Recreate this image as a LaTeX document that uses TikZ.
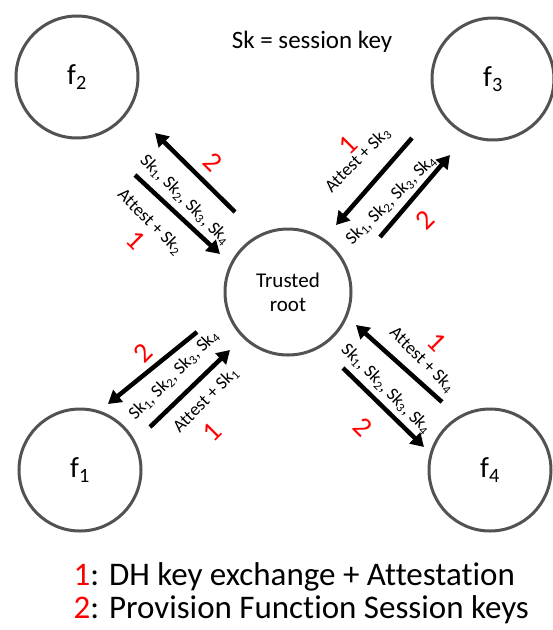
\documentclass[tikz,border=0pt]{standalone}
\usepackage{fontspec}
\setmainfont[Ligatures=NoCommon]{Carlito}
\usetikzlibrary{arrows.meta}

\begin{document}
\begin{tikzpicture}[
    x=1pt,y=-1pt,
    fn/.style={circle,draw=black!68,line width=3pt,minimum size=122pt,font=\fontsize{29}{32}\selectfont},
    msg/.style={line width=4.5pt,-{Triangle[length=13pt,width=15pt]}},
    lbl/.style={font=\fontsize{18}{20}\selectfont,inner sep=0pt},
    num/.style={text=red,font=\fontsize{28}{30}\selectfont,inner sep=0pt}
]
    \useasboundingbox (0,0) rectangle (553,630);
    \node[font=\fontsize{25}{28}\selectfont] (title) at (312,42) {Sk = session key};
    \node[fn] (f2) at (77,77) {f\textsubscript{2}};
    \node[fn] (f3) at (493,79) {f\textsubscript{3}};
    \node[fn] (f1) at (80,470) {f\textsubscript{1}};
    \node[fn] (f4) at (490,470) {f\textsubscript{4}};
    \node[fn,minimum size=126pt,font=\fontsize{21}{24}\selectfont,align=center] (root) at (288,292) {Trusted\\root};

    \coordinate (ul1s) at (135,175);
    \coordinate (ul1e) at (220,254);
    \coordinate (ul2s) at (235,212);
    \coordinate (ul2e) at (155,133);
    \draw[msg] (ul1s) -- (ul1e);
    \draw[msg] (ul2s) -- (ul2e);
    \node[lbl,rotate=-45] (ulk) at (185,200) {Sk\textsubscript{1}, Sk\textsubscript{2}, Sk\textsubscript{3}, Sk\textsubscript{4}};
    \node[lbl,rotate=-45] (ula) at (150,222) {Attest + Sk\textsubscript{2}};
    \node[num,rotate=-45] (uln2) at (213,162) {2};
    \node[num,rotate=-45] (uln1) at (136,240) {1};

    \coordinate (ur1s) at (412,138);
    \coordinate (ur1e) at (336,225);
    \coordinate (ur2s) at (380,237);
    \coordinate (ur2e) at (450,155);
    \draw[msg] (ur1s) -- (ur1e);
    \draw[msg] (ur2s) -- (ur2e);
    \node[lbl,rotate=45] (ura) at (358,160) {Attest + Sk\textsubscript{3}};
    \node[lbl,rotate=45] (urk) at (391,200) {Sk\textsubscript{1}, Sk\textsubscript{2}, Sk\textsubscript{3}, Sk\textsubscript{4}};
    \node[num,rotate=45] (urn1) at (348,145) {1};
    \node[num,rotate=45] (urn2) at (425,220) {2};

    \coordinate (ll2s) at (197,332);
    \coordinate (ll2e) at (108,404);
    \coordinate (ll1s) at (150,427);
    \coordinate (ll1e) at (230,350);
    \draw[msg] (ll2s) -- (ll2e);
    \draw[msg] (ll1s) -- (ll1e);
    \node[lbl,rotate=45] (llk) at (174,375) {Sk\textsubscript{1}, Sk\textsubscript{2}, Sk\textsubscript{3}, Sk\textsubscript{4}};
    \node[lbl,rotate=45] (lla) at (206,400) {Attest + Sk\textsubscript{1}};
    \node[num,rotate=45] (lln2) at (143,353) {2};
    \node[num,rotate=45] (lln1) at (212,432) {1};

    \coordinate (lr1s) at (442,402);
    \coordinate (lr1e) at (356,325);
    \coordinate (lr2s) at (343,368);
    \coordinate (lr2e) at (424,447);
    \draw[msg] (lr1s) -- (lr1e);
    \draw[msg] (lr2s) -- (lr2e);
    \node[lbl,rotate=-45] (lra) at (422,360) {Attest + Sk\textsubscript{4}};
    \node[lbl,rotate=-45] (lrk) at (386,389) {Sk\textsubscript{1}, Sk\textsubscript{2}, Sk\textsubscript{3}, Sk\textsubscript{4}};
    \node[num,rotate=-45] (lrn1) at (437,342) {1};
    \node[num,rotate=-45] (lrn2) at (363,427) {2};

    \node[anchor=west,align=left,font=\fontsize{33}{33}\selectfont] (legend) at (70,593)
        {\textcolor{red}{1}: DH key exchange + Attestation\\
         \textcolor{red}{2}: Provision Function Session keys};
\end{tikzpicture}
\end{document}
